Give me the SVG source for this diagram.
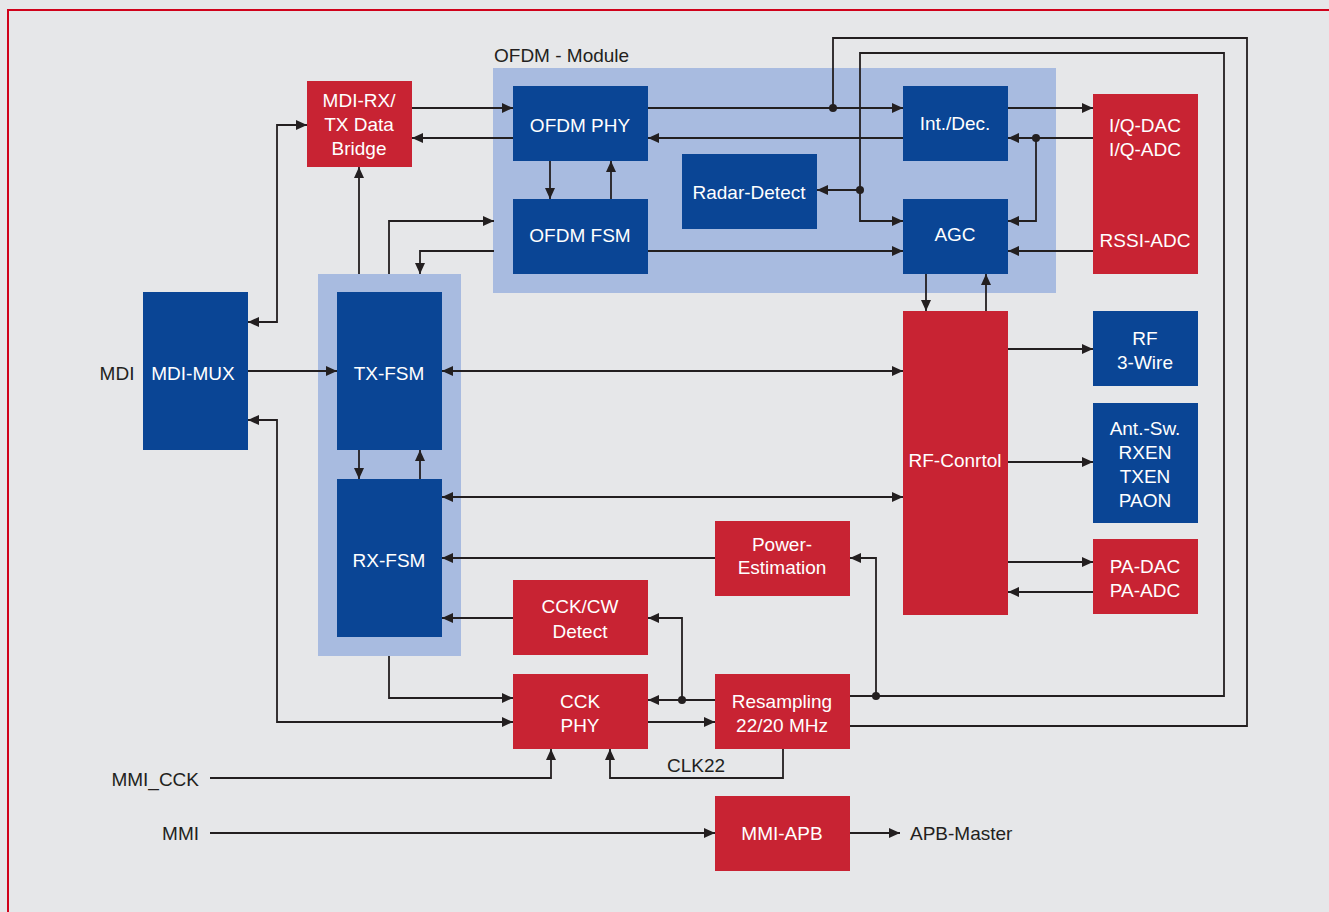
<svg xmlns="http://www.w3.org/2000/svg" width="1329" height="912" viewBox="0 0 1329 912">
<defs>
<marker id="a" viewBox="0 0 11 10" refX="11" refY="5" markerWidth="11" markerHeight="10" markerUnits="userSpaceOnUse" orient="auto-start-reverse"><path d="M0,0 L11,5 L0,10 z" fill="#231f20"/></marker>
<style>
.bl{fill:#0a4595}
.rd{fill:#c82333}
.lb{fill:#a8bbe0}
.t{font-family:"Liberation Sans",Arial,sans-serif;font-size:19px;fill:#fff;text-anchor:middle}
.k{font-family:"Liberation Sans",Arial,sans-serif;font-size:19px;fill:#231f20}
.c path{fill:none;stroke:#231f20;stroke-width:1.8}
.c .ar{marker-end:url(#a)}
.c .ab{marker-start:url(#a);marker-end:url(#a)}
.c circle{fill:#231f20}
</style>
</defs>
<rect x="0" y="0" width="1329" height="912" fill="#e6e7e9"/>
<path d="M8,912 V10 H1329" fill="none" stroke="#d0021b" stroke-width="2"/>

<g id="ofdm-module"><rect class="lb" x="493" y="68" width="563" height="225"/><text class="k" x="494" y="62">OFDM - Module</text></g>
<g id="fsm-region"><rect class="lb" x="318" y="274" width="143" height="382"/></g>

<g id="ofdm-phy"><rect class="bl" x="513" y="86" width="135" height="75"/><text class="t" x="580" y="132">OFDM PHY</text></g>
<g id="ofdm-fsm"><rect class="bl" x="513" y="199" width="135" height="75"/><text class="t" x="580" y="242">OFDM FSM</text></g>
<g id="radar"><rect class="bl" x="682" y="154" width="135" height="75"/><text class="t" x="749" y="199">Radar-Detect</text></g>
<g id="intdec"><rect class="bl" x="903" y="86" width="105" height="75"/><text class="t" x="955" y="130">Int./Dec.</text></g>
<g id="agc"><rect class="bl" x="903" y="199" width="105" height="75"/><text class="t" x="955" y="241">AGC</text></g>
<g id="iq"><rect class="rd" x="1093" y="94" width="105" height="180"/><text class="t" x="1145" y="132">I/Q-DAC</text><text class="t" x="1145" y="156">I/Q-ADC</text><text class="t" x="1145" y="247">RSSI-ADC</text></g>
<g id="bridge"><rect class="rd" x="307" y="81" width="105" height="86"/><text class="t" x="359" y="107">MDI-RX/</text><text class="t" x="359" y="131">TX Data</text><text class="t" x="359" y="155">Bridge</text></g>
<g id="mdimux"><rect class="bl" x="143" y="292" width="105" height="158"/><text class="t" x="193" y="380">MDI-MUX</text><text class="k" x="117" y="380" text-anchor="middle">MDI</text></g>
<g id="txfsm"><rect class="bl" x="337" y="292" width="105" height="158"/><text class="t" x="389" y="380">TX-FSM</text></g>
<g id="rxfsm"><rect class="bl" x="337" y="479" width="105" height="158"/><text class="t" x="389" y="567">RX-FSM</text></g>
<g id="rfcontrol"><rect class="rd" x="903" y="311" width="105" height="304"/><text class="t" x="955" y="467">RF-Conrtol</text></g>
<g id="rf3"><rect class="bl" x="1093" y="311" width="105" height="75"/><text class="t" x="1145" y="345">RF</text><text class="t" x="1145" y="369">3-Wire</text></g>
<g id="antsw"><rect class="bl" x="1093" y="403" width="105" height="120"/><text class="t" x="1145" y="435">Ant.-Sw.</text><text class="t" x="1145" y="459">RXEN</text><text class="t" x="1145" y="483">TXEN</text><text class="t" x="1145" y="507">PAON</text></g>
<g id="padac"><rect class="rd" x="1093" y="539" width="105" height="75"/><text class="t" x="1145" y="573">PA-DAC</text><text class="t" x="1145" y="597">PA-ADC</text></g>
<g id="power"><rect class="rd" x="715" y="521" width="135" height="75"/><text class="t" x="782" y="551">Power-</text><text class="t" x="782" y="574">Estimation</text></g>
<g id="cckcw"><rect class="rd" x="513" y="580" width="135" height="75"/><text class="t" x="580" y="613">CCK/CW</text><text class="t" x="580" y="638">Detect</text></g>
<g id="cckphy"><rect class="rd" x="513" y="674" width="135" height="75"/><text class="t" x="580" y="708">CCK</text><text class="t" x="580" y="732">PHY</text></g>
<g id="resampling"><rect class="rd" x="715" y="674" width="135" height="75"/><text class="t" x="782" y="708">Resampling</text><text class="t" x="782" y="732">22/20 MHz</text></g>
<g id="mmiapb"><rect class="rd" x="715" y="796" width="135" height="75"/><text class="t" x="782" y="840">MMI-APB</text></g>

<g id="labels">
<text class="k" x="199" y="786" text-anchor="end">MMI_CCK</text>
<text class="k" x="199" y="840" text-anchor="end">MMI</text>
<text class="k" x="910" y="840">APB-Master</text>
<text class="k" x="696" y="772" text-anchor="middle">CLK22</text>
</g>

<g id="connectors" class="c">
<path class="ar" d="M412,108 H513"/>
<path class="ar" d="M513,138 H412"/>
<path class="ar" d="M648,108 H903"/>
<path class="ar" d="M903,138 H648"/>
<path class="ar" d="M1008,108 H1093"/>
<path class="ar" d="M1093,138 H1008"/>
<path class="ar" d="M1036,138 V221 H1008"/>
<path class="ar" d="M1093,251 H1008"/>
<path class="ar" d="M648,251 H903"/>
<path class="ar" d="M550,161 V199"/>
<path class="ar" d="M611,199 V161"/>
<path class="ar" d="M926,274 V311"/>
<path class="ar" d="M986,311 V274"/>
<path d="M850,726 H1247 V38 H833 V108"/>
<path class="ar" d="M850,696 H1224 V53 H860 V221 H903"/>
<path class="ar" d="M860,190 H817"/>
<path class="ar" d="M876,696 V558 H850"/>
<path class="ab" d="M307,125 H277 V322 H248"/>
<path class="ar" d="M248,371 H337"/>
<path class="ab" d="M248,420 H277 V722 H513"/>
<path class="ar" d="M359,274 V167"/>
<path class="ar" d="M389,274 V221 H494"/>
<path class="ar" d="M494,251 H420 V274"/>
<path class="ab" d="M442,371 H903"/>
<path class="ab" d="M442,497 H903"/>
<path class="ar" d="M715,558 H442"/>
<path class="ar" d="M513,618 H442"/>
<path class="ar" d="M359,450 V479"/>
<path class="ar" d="M420,479 V450"/>
<path class="ar" d="M389,656 V698 H513"/>
<path class="ar" d="M715,700 H648"/>
<path class="ar" d="M682,700 V618 H648"/>
<path class="ar" d="M648,722 H715"/>
<path class="ar" d="M783,749 V778 H610 V749"/>
<path class="ar" d="M210,778 H551 V749"/>
<path class="ar" d="M210,833 H715"/>
<path class="ar" d="M850,833 H900"/>
<path class="ar" d="M1008,349 H1093"/>
<path class="ar" d="M1008,462 H1093"/>
<path class="ar" d="M1008,562 H1093"/>
<path class="ar" d="M1093,592 H1008"/>
<circle cx="833" cy="108" r="4"/>
<circle cx="1036" cy="138" r="4"/>
<circle cx="860" cy="190" r="4"/>
<circle cx="876" cy="696" r="4"/>
<circle cx="682" cy="700" r="4"/>
</g>
</svg>
